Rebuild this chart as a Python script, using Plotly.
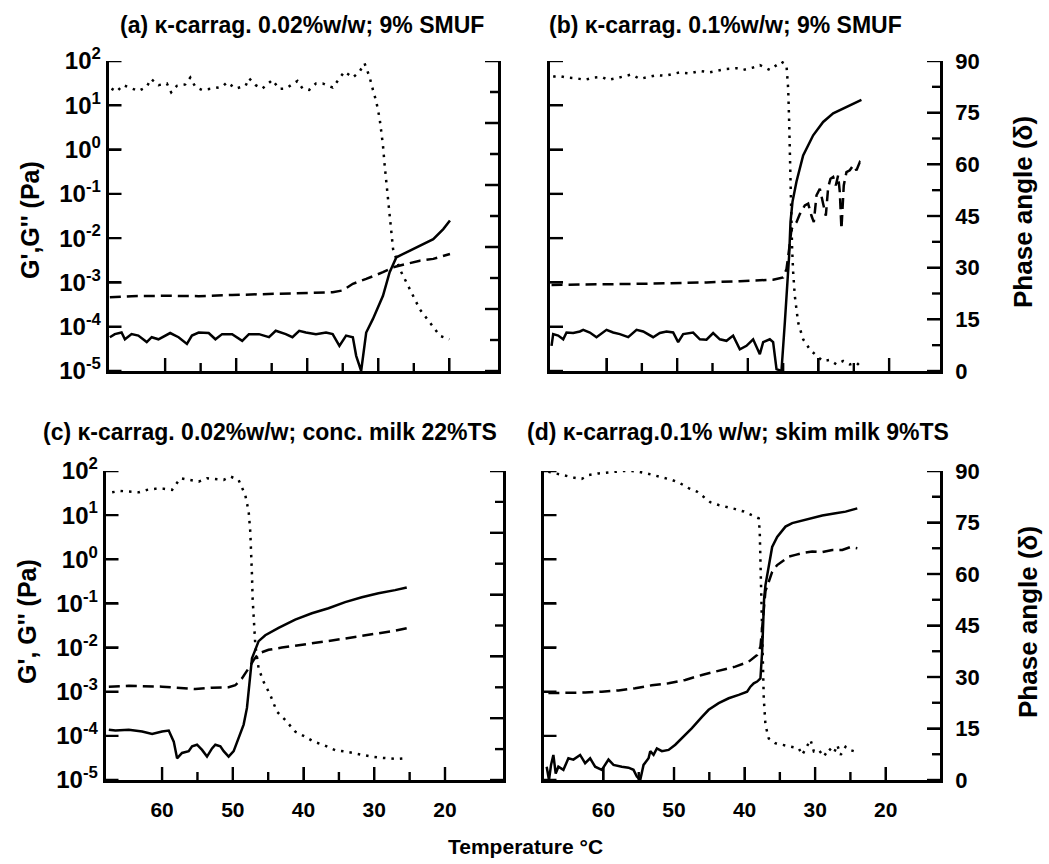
import plotly.graph_objects as go

# ---------------- data (temperature in degC, G in Pa, phase in degrees) ----------------
a_gp_T = [67.78, 67.08, 66.13, 65.66, 64.72, 63.77, 62.59, 61.89, 60.94, 60.0, 59.29, 58.11, 56.93, 56.23,
          55.28, 53.87, 52.92, 51.98, 50.57, 49.15, 48.21, 46.79, 45.38, 44.43, 43.02, 42.08, 41.13, 40.19,
          38.77, 37.36, 36.42, 35.47, 34.53, 33.58, 33.11, 32.41, 32.17, 31.70, 30.75, 29.34, 28.40, 27.45,
          26.04, 24.15, 22.26, 20.85, 19.91]
a_gp = [5.8e-5, 6.8e-5, 7.4e-5, 5.2e-5, 6.8e-5, 6.3e-5, 4.5e-5, 5.8e-5, 5.2e-5, 6.3e-5, 7.2e-5, 5.8e-5, 4.1e-5,
        6.3e-5, 7.4e-5, 7.2e-5, 5.2e-5, 6.8e-5, 6.8e-5, 4.8e-5, 6.8e-5, 6.8e-5, 5.8e-5, 8.1e-5, 6.8e-5, 5.8e-5,
        8.1e-5, 7.4e-5, 6.8e-5, 7.4e-5, 6.8e-5, 3.7e-5, 6.3e-5, 5.8e-5, 2.2e-5, 1.0e-5, 2.2e-5, 7.4e-5, 1.5e-4,
        5.0e-4, 1.7e-3, 3.7e-3, 4.8e-3, 6.8e-3, 9.5e-3, 1.6e-2, 2.5e-2]
a_gpp_T = [67.78, 64.72, 60.0, 55.28, 50.57, 45.85, 41.13, 36.42, 35.0, 33.58, 31.70, 29.34, 27.92, 26.04,
           24.15, 22.26, 19.91]
a_gpp = [4.6e-4, 4.9e-4, 5.0e-4, 4.9e-4, 5.2e-4, 5.5e-4, 5.6e-4, 6.0e-4, 6.6e-4, 9.3e-4, 1.2e-3, 1.7e-3,
         2.2e-3, 2.6e-3, 3.1e-3, 3.4e-3, 4.4e-3]
a_ph_T = [67.55, 66.84, 65.90, 64.72, 63.77, 62.59, 61.98, 60.94, 59.76, 59.15, 58.35, 57.17, 56.46, 55.75,
          54.81, 53.40, 51.98, 51.27, 50.09, 48.68, 48.21, 47.26, 46.32, 44.91, 43.96, 43.02, 42.08, 41.37,
          40.66, 39.72, 38.77, 37.83, 36.42, 35.47, 34.76, 33.58, 32.64, 31.93, 31.23, 30.75, 30.28, 29.81,
          29.34, 29.10, 28.77, 28.49, 28.16, 27.92, 26.98, 25.57, 24.15, 22.74, 21.32, 20.0]
a_ph = [82.0, 81.1, 83.0, 82.0, 81.3, 82.5, 84.8, 83.0, 83.5, 80.9, 82.8, 83.2, 85.2, 82.5, 81.6, 82.0, 82.5,
        83.8, 82.0, 82.8, 85.0, 83.0, 82.0, 84.5, 81.9, 82.0, 83.2, 84.2, 82.0, 81.6, 83.5, 83.5, 82.3, 84.8,
        86.9, 85.2, 86.9, 89.3, 85.4, 81.6, 78.2, 73.3, 65.5, 59.7, 52.9, 47.1, 40.3, 35.4, 29.6, 23.8, 17.9,
        14.1, 10.2, 9.2]

b_gp_T = [67.78, 67.55, 66.84, 66.13, 65.66, 64.72, 63.77, 63.30, 62.36, 61.42, 60.0, 59.06, 58.11, 56.93,
          55.75, 54.81, 53.40, 52.45, 51.51, 50.57, 49.86, 49.15, 47.74, 46.79, 45.85, 44.91, 43.96, 43.02,
          42.08, 41.13, 40.19, 39.25, 38.30, 37.83, 36.89, 36.42, 35.94, 35.24, 34.76, 34.43, 34.15, 33.96,
          33.68, 33.11, 32.17, 30.75, 29.34, 27.92, 26.04, 23.92]
b_gp = [3.7e-5, 6.8e-5, 6.3e-5, 5.2e-5, 7.4e-5, 7.2e-5, 7.8e-5, 8.5e-5, 7.4e-5, 5.8e-5, 8.5e-5, 7.4e-5, 6.8e-5,
        5.8e-5, 8.5e-5, 7.8e-5, 5.8e-5, 7.2e-5, 7.8e-5, 7.4e-5, 4.5e-5, 6.8e-5, 7.4e-5, 5.2e-5, 5.1e-5, 7.2e-5,
        5.2e-5, 4.8e-5, 6.3e-5, 3.1e-5, 3.7e-5, 5.2e-5, 2.4e-5, 4.5e-5, 5.2e-5, 4.5e-5, 1.1e-5, 1.0e-5, 1.26e-4,
        7.1e-4, 4.1e-3, 2.3e-2, 6.6e-2, 0.19, 0.74, 2.1, 4.2, 6.6, 9.3, 13.2]
b_gpp_T = [67.78, 64.72, 60.0, 55.28, 50.57, 45.85, 41.13, 36.42, 35.0, 34.53, 34.15, 33.82, 33.11, 32.64,
           31.93, 31.46, 30.99, 30.66, 30.28, 29.81, 29.34, 28.96, 28.63, 28.30, 27.92, 27.55, 27.22, 26.98,
           26.75, 26.42, 26.04, 25.57, 25.09, 24.62, 24.15, 23.92]
b_gpp = [8.8e-4, 8.8e-4, 9.1e-4, 9.3e-4, 9.6e-4, 1.0e-3, 1.07e-3, 1.15e-3, 1.3e-3, 2.0e-3, 5.7e-3, 1.6e-2,
         2.3e-2, 3.5e-2, 5.5e-2, 6.0e-2, 3.2e-2, 2.3e-2, 9.3e-2, 0.13, 6.0e-2, 3.2e-2, 0.14, 0.22, 0.24, 0.155,
         0.26, 0.11, 1.6e-2, 0.155, 0.31, 0.34, 0.44, 0.34, 0.52, 0.48]
b_ph_T = [67.55, 66.84, 65.66, 64.25, 63.07, 61.89, 60.71, 59.76, 58.58, 57.41, 56.46, 55.28, 54.10, 52.92,
          51.75, 50.57, 49.62, 48.21, 46.79, 45.38, 44.43, 43.02, 41.60, 40.66, 39.25, 38.30, 36.89, 36.42,
          35.24, 34.53, 34.29, 34.15, 34.06, 33.96, 33.82, 33.73, 33.58, 33.35, 32.88, 32.17, 31.23, 30.28,
          29.34, 28.40, 27.45, 26.51, 25.57, 24.62, 24.15]
b_ph = [85.4, 85.7, 85.2, 85.0, 84.5, 85.2, 85.4, 84.5, 85.0, 85.7, 86.1, 84.8, 85.4, 85.9, 85.7, 86.2, 86.7,
        86.4, 87.1, 86.7, 87.1, 87.7, 87.9, 87.4, 88.1, 88.8, 87.4, 88.1, 89.8, 88.8, 82.0, 72.4, 62.7, 52.9,
        43.2, 35.4, 28.6, 21.8, 14.1, 9.2, 6.3, 4.4, 2.9, 3.2, 1.9, 2.9, 1.9, 2.4, 1.5]

c_gp_T = [67.53, 66.59, 64.71, 62.82, 61.41, 60.0, 59.06, 58.35, 57.88, 57.18, 56.24, 55.76, 55.06, 54.35,
          53.65, 52.94, 52.47, 51.76, 51.29, 50.59, 49.88, 49.18, 48.47, 48.0, 47.76, 47.53, 47.29, 46.92,
          46.35, 45.41, 43.53, 41.18, 38.82, 36.47, 34.12, 31.76, 29.41, 27.06, 25.41]
c_gp = [1.38e-4, 1.32e-4, 1.38e-4, 1.26e-4, 1.1e-4, 1.26e-4, 1.32e-4, 7.4e-5, 3.1e-5, 4.1e-5, 4.5e-5, 5.8e-5,
        6.3e-5, 4.8e-5, 3.4e-5, 5.2e-5, 6.3e-5, 5.8e-5, 4.5e-5, 3.4e-5, 4.5e-5, 8.9e-5, 1.8e-4, 4.3e-4, 1.0e-3,
        2.9e-3, 5.7e-3, 8.1e-3, 1.4e-2, 1.9e-2, 2.8e-2, 4.3e-2, 6.0e-2, 7.8e-2, 0.107, 0.138, 0.17, 0.20, 0.23]
c_gpp_T = [67.53, 64.71, 60.0, 57.18, 55.29, 52.94, 50.59, 49.65, 48.71, 47.76, 47.06, 46.35, 44.94, 43.06,
           41.18, 38.82, 36.47, 34.12, 31.76, 29.41, 27.06, 25.41]
c_gpp = [1.3e-3, 1.36e-3, 1.3e-3, 1.2e-3, 1.15e-3, 1.23e-3, 1.26e-3, 1.4e-3, 2.0e-3, 3.4e-3, 5.2e-3, 7.4e-3,
         8.9e-3, 1.0e-2, 1.1e-2, 1.26e-2, 1.4e-2, 1.6e-2, 1.85e-2, 2.1e-2, 2.4e-2, 2.75e-2]
c_ph_T = [67.06, 65.88, 64.71, 63.29, 62.12, 60.94, 59.76, 58.59, 57.41, 56.0, 54.82, 53.65, 52.47, 51.29,
          50.35, 49.18, 48.24, 47.76, 47.53, 47.39, 47.29, 47.2, 47.06, 46.82, 46.35, 45.65, 44.71, 43.76,
          42.59, 41.18, 39.76, 38.59, 37.18, 35.53, 34.12, 32.94, 31.76, 30.35, 29.18, 28.0, 26.82, 25.65]
c_ph = [83.8, 84.2, 84.0, 83.8, 84.5, 84.8, 84.8, 84.5, 87.9, 87.4, 86.9, 87.9, 87.7, 87.4, 88.4, 87.4, 83.0,
        78.2, 72.3, 66.5, 59.7, 52.9, 46.1, 39.3, 32.5, 28.6, 24.8, 19.9, 17.5, 14.1, 12.6, 11.2, 10.2, 8.7,
        8.3, 7.8, 7.3, 6.8, 6.5, 6.3, 6.1, 6.3]

d_gp_T = [68.05, 67.72, 67.43, 67.10, 66.77, 66.39, 65.68, 64.97, 64.26, 63.31, 62.60, 61.89, 61.18, 60.24,
          59.29, 58.58, 57.40, 56.45, 55.74, 55.27, 54.79, 54.32, 53.61, 53.37, 52.90, 52.43, 51.72, 50.77,
          49.82, 48.88, 47.46, 46.04, 45.09, 43.67, 42.25, 40.83, 39.64, 39.17, 38.70, 38.22, 37.75, 37.51,
          37.37, 37.23, 37.04, 36.57, 36.09, 35.38, 34.20, 33.25, 31.83, 30.41, 28.99, 27.10, 25.68, 24.02]
d_gp = [2.0e-5, 1.0e-5, 2.2e-5, 3.7e-5, 1.4e-5, 2.0e-5, 1.7e-5, 3.1e-5, 2.9e-5, 3.7e-5, 2.4e-5, 3.1e-5, 2.0e-5,
        1.7e-5, 2.9e-5, 2.2e-5, 2.0e-5, 1.9e-5, 1.7e-5, 1.2e-5, 1.0e-5, 2.2e-5, 3.1e-5, 4.5e-5, 3.7e-5, 5.2e-5,
        4.5e-5, 4.8e-5, 6.3e-5, 8.9e-5, 1.5e-4, 2.7e-4, 3.9e-4, 5.5e-4, 7.1e-4, 8.5e-4, 1.0e-3, 1.3e-3, 1.55e-3,
        1.7e-3, 2.0e-3, 8.1e-3, 5.5e-2, 0.13, 0.26, 0.74, 1.9, 3.2, 5.5, 6.6, 7.6, 8.5, 9.8, 11.0, 12.0, 14.2]
d_gpp_T = [67.81, 64.97, 62.60, 60.24, 57.87, 55.50, 53.14, 50.77, 48.40, 46.04, 43.67, 41.30, 39.41, 38.22,
           37.75, 37.51, 37.28, 37.04, 36.57, 36.09, 35.38, 34.67, 33.73, 32.78, 31.83, 30.41, 28.99, 27.57,
           26.15, 24.97, 24.02]
d_gpp = [9.3e-4, 9.3e-4, 9.6e-4, 1.0e-3, 1.07e-3, 1.2e-3, 1.4e-3, 1.55e-3, 1.85e-3, 2.4e-3, 2.95e-3, 3.7e-3,
         4.8e-3, 6.8e-3, 1.05e-2, 3.2e-2, 9.3e-2, 0.19, 0.31, 0.52, 0.74, 0.89, 1.15, 1.26, 1.38, 1.5, 1.45,
         1.62, 1.62, 1.9, 1.78]
d_ph_T = [67.81, 66.86, 65.44, 64.26, 63.08, 62.13, 60.71, 59.53, 58.34, 57.16, 55.98, 55.03, 53.85, 52.66,
          51.48, 50.30, 49.11, 47.93, 46.75, 45.80, 44.85, 43.67, 42.49, 41.30, 40.12, 39.17, 38.46, 37.99,
          37.85, 37.75, 37.66, 37.51, 37.37, 37.28, 37.04, 36.57, 35.62, 34.44, 33.25, 32.31, 31.83, 31.12,
          30.65, 30.18, 29.47, 28.76, 28.05, 27.34, 26.86, 26.39, 25.68, 24.97, 24.02]
d_ph = [89.8, 89.3, 88.6, 88.1, 87.7, 88.8, 89.3, 89.6, 89.8, 90.0, 90.0, 89.8, 89.3, 88.6, 88.1, 87.4, 86.4,
        85.0, 84.0, 82.5, 80.9, 80.1, 79.6, 78.9, 78.2, 77.4, 76.7, 76.2, 72.3, 62.6, 52.9, 43.2, 33.5, 23.8,
        16.0, 12.1, 10.7, 10.2, 9.7, 9.2, 7.3, 10.2, 11.7, 8.3, 8.7, 6.8, 9.2, 7.8, 10.2, 7.3, 9.7, 8.7, 8.1]

titles = ["(a) κ-carrag. 0.02%w/w; 9% SMUF",
          "(b) κ-carrag. 0.1%w/w; 9% SMUF",
          "(c) κ-carrag. 0.02%w/w; conc. milk 22%TS",
          "(d) κ-carrag.0.1% w/w; skim milk 9%TS"]
temp_ticks = [60, 50, 40, 30, 20]
temp_minor = [55, 45, 35, 25]
log_ticks = [1e-5, 1e-4, 1e-3, 1e-2, 1e-1, 1e0, 1e1, 1e2]
log_text = ["10<sup>-5</sup>", "10<sup>-4</sup>", "10<sup>-3</sup>", "10<sup>-2</sup>",
            "10<sup>-1</sup>", "10<sup>0</sup>", "10<sup>1</sup>", "10<sup>2</sup>"]
phase_ticks = [0, 15, 30, 45, 60, 75, 90]
phase_minor = [7.5, 22.5, 37.5, 52.5, 67.5, 82.5]
phase_ticks_ac = [0, 18, 36, 54, 72, 90]
phase_minor_ac = [9, 27, 45, 63, 81]

W, H = 1049, 864
FONT = "Liberation Sans, Arial, Helvetica, sans-serif"
LOG_RANGE = [-5, 2]
panels = [
    (108.5, 498.0, 61, 371, [67.97, 13.15]),
    (550.0, 940.0, 61, 371, [68.0, 12.8]),
    (105.5, 503.0, 471, 780, [68.0, 11.8]),
    (543.5, 940.0, 471, 780, [68.5, 12.3]),
]
data = [
    (a_gp_T, a_gp, a_gpp_T, a_gpp, a_ph_T, a_ph),
    (b_gp_T, b_gp, b_gpp_T, b_gpp, b_ph_T, b_ph),
    (c_gp_T, c_gp, c_gpp_T, c_gpp, c_ph_T, c_ph),
    (d_gp_T, d_gp, d_gpp_T, d_gpp, d_ph_T, d_ph),
]

MAJ, MIN, TW = 13, 8, 2.4
fig = go.Figure()
LW = 2.5


def tick_trace(xs, ys, xref, yref):
    return go.Scatter(x=xs, y=ys, mode="lines", xaxis=xref, yaxis=yref, showlegend=False,
                      hoverinfo="skip", line=dict(color="black", width=TW))


for i, ((x0, x1, yt, yb, trange), (gT, g1, ggT, g2, pT, ph)) in enumerate(zip(panels, data)):
    xn = "" if i == 0 else str(i + 1)
    ylog = "" if i == 0 else str(2 * i + 1)
    yph = str(2 * i + 2)
    xref, ylref, ypref = "x" + xn, "y" + ylog, "y" + yph

    fig.add_trace(go.Scatter(x=gT, y=g1, mode="lines", xaxis=xref, yaxis=ylref,
                             line=dict(color="black", width=LW), showlegend=False))
    fig.add_trace(go.Scatter(x=ggT, y=g2, mode="lines", xaxis=xref, yaxis=ylref,
                             line=dict(color="black", width=LW, dash="11px,6px"), showlegend=False))
    fig.add_trace(go.Scatter(x=pT, y=ph, mode="lines", xaxis=xref, yaxis=ypref,
                             line=dict(color="black", width=LW, dash="2.5px,6px"), showlegend=False))

    bottom_row = i >= 2
    left_col = i % 2 == 0
    ydom = [1 - yb / H, 1 - yt / H]
    tf = dict(family=FONT, size=21, color="black", weight="bold")
    pt, pm, ptext = (phase_ticks_ac, phase_minor_ac, False) if left_col else (phase_ticks, phase_minor, True)

    fig.layout["xaxis" + xn] = dict(
        domain=[x0 / W, x1 / W], range=trange, anchor=ylref, automargin=False,
        showline=True, linecolor="black", linewidth=2.6, showgrid=False, zeroline=False,
        tickmode="array", tickvals=temp_ticks, ticktext=[str(t) for t in temp_ticks],
        ticks="inside", ticklen=MAJ, tickwidth=TW, tickcolor="black",
        showticklabels=bottom_row, tickfont=tf, ticklabelstandoff=9)
    fig.layout["yaxis" + ylog] = dict(
        domain=ydom, type="log", range=LOG_RANGE, anchor=xref, automargin=False,
        showline=True, linecolor="black", linewidth=2.6, showgrid=False, zeroline=False,
        tickmode="array", tickvals=log_ticks, ticktext=log_text,
        ticks="inside", ticklen=MAJ, tickwidth=TW, tickcolor="black",
        showticklabels=left_col, tickfont=dict(tf, size=24))
    fig.layout["yaxis" + yph] = dict(
        overlaying=ylref, side="right", anchor=xref, range=[0, 90], automargin=False,
        showline=True, linecolor="black", linewidth=2.6, showgrid=False, zeroline=False,
        tickmode="array", tickvals=pt, ticktext=[str(t) for t in pt],
        ticks="inside", ticklen=MAJ, tickwidth=TW, tickcolor="black",
        showticklabels=ptext, tickfont=dict(tf, size=22), ticklabelstandoff=8)

    # inward tick marks, drawn as short segments on each axis' own scale
    t_per_px = (trange[0] - trange[1]) / (x1 - x0)
    dec_per_px = (LOG_RANGE[1] - LOG_RANGE[0]) / (yb - yt)
    xs, ys = [], []
    for vals, ln in ((temp_ticks, MAJ), (temp_minor, MIN)):
        for v in vals:
            xs += [v, v, None]
            ys += [10 ** LOG_RANGE[0], 10 ** (LOG_RANGE[0] + ln * dec_per_px), None]
    for v in log_ticks:
        xs += [trange[0], trange[0] - MAJ * t_per_px, None]
        ys += [v, v, None]
    fig.add_trace(tick_trace(xs, ys, xref, ylref))
    xs, ys = [], []
    for vals, ln in ((pt, MAJ), (pm, MIN)):
        for v in vals:
            xs += [trange[1], trange[1] + ln * t_per_px, None]
            ys += [v, v, None]
    fig.add_trace(tick_trace(xs, ys, xref, ypref))

ann = []
title_pos = [(302, 25), (725, 25), (270, 432), (738, 432)]
for t, (tx, ty) in zip(titles, title_pos):
    ann.append(dict(text=t, x=tx / W, y=1 - ty / H, xref="paper", yref="paper", showarrow=False,
                    xanchor="center", yanchor="middle",
                    font=dict(family=FONT, size=23, color="black", weight="bold")))
side_titles = [("G',G'' (Pa)", 30, 220, 25), ("G', G'' (Pa)", 27, 622, 25),
               ("Phase angle (δ)", 1023, 212, 26), ("Phase angle (δ)", 1028, 622, 26)]
for t, tx, ty, fs in side_titles:
    ann.append(dict(text=t, x=tx / W, y=1 - ty / H, xref="paper", yref="paper", showarrow=False,
                    xanchor="center", yanchor="middle", textangle=-90,
                    font=dict(family=FONT, size=fs, color="black", weight="bold")))
ann.append(dict(text="Temperature °C", x=525 / W, y=1 - 846 / H, xref="paper", yref="paper",
                showarrow=False, xanchor="center", yanchor="middle",
                font=dict(family=FONT, size=21, color="black", weight="bold")))

fig.update_layout(template="none", width=W, height=H, margin=dict(l=0, r=0, t=0, b=0, pad=0),
                  autosize=False, paper_bgcolor="white", plot_bgcolor="rgba(0,0,0,0)",
                  annotations=ann, showlegend=False)
fig.write_html("out.html", config={"displayModeBar": False},
               post_script="document.body.style.margin='0';document.body.style.overflow='hidden';")
